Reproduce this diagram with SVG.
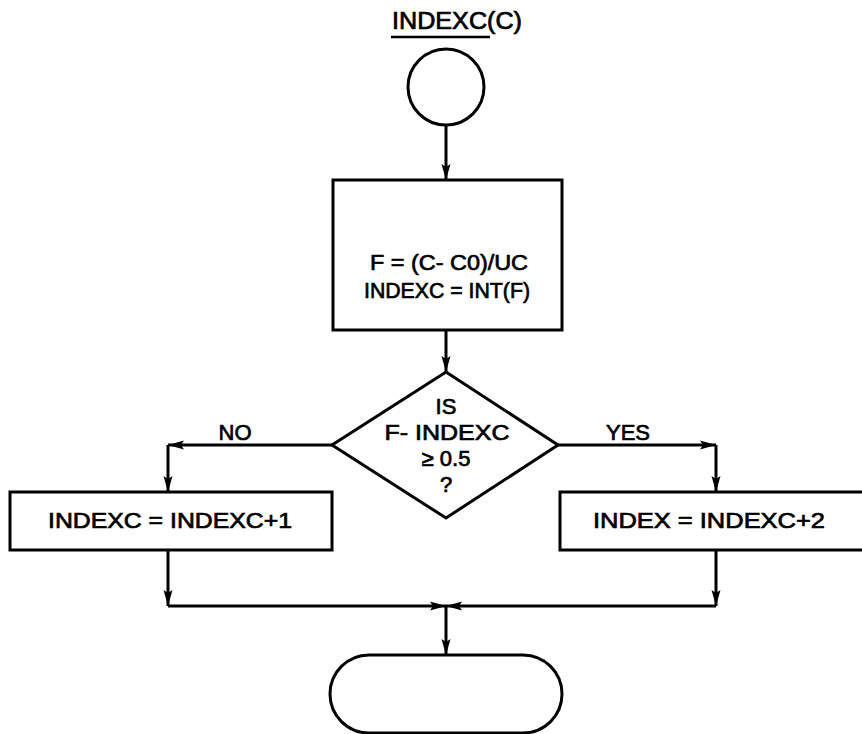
<svg xmlns="http://www.w3.org/2000/svg" width="862" height="734" viewBox="0 0 862 734">
  <style>
    .shape { fill: #fff; stroke: #000; stroke-width: 3; }
    .wire { fill: none; stroke: #000; stroke-width: 3; }
    .lbl { font-family: "Liberation Sans", Arial, sans-serif; font-size: 22px; fill: #000; stroke: #000; stroke-width: 0.7; text-anchor: middle; }
    .title { font-size: 23px; }
  </style>
  <defs>
    <marker id="arrow" viewBox="0 0 16 10" refX="16" refY="5" markerWidth="16" markerHeight="10" markerUnits="userSpaceOnUse" orient="auto">
      <path d="M0,0.5 L16,5 L0,9.5 L3,5 Z" fill="#000"/>
    </marker>
  </defs>
  <rect width="862" height="734" fill="#fff"/>

  <!-- entry point label -->
  <g id="title">
    <text class="lbl title" x="457" y="29" textLength="130" lengthAdjust="spacingAndGlyphs">INDEXC(C)</text>
    <line x1="391" y1="37" x2="490" y2="37" stroke="#000" stroke-width="2.5"/>
  </g>

  <!-- start connector circle -->
  <g id="start">
    <circle class="shape" cx="446" cy="87" r="38"/>
  </g>

  <!-- compute F and its integer part -->
  <g id="compute">
    <rect class="shape" x="333" y="180" width="229" height="150"/>
    <text class="lbl" x="449" y="270" textLength="158" lengthAdjust="spacingAndGlyphs">F = (C- C0)/UC</text>
    <text class="lbl" x="447" y="298" textLength="166" lengthAdjust="spacingAndGlyphs">INDEXC = INT(F)</text>
  </g>

  <!-- rounding decision -->
  <g id="decision">
    <polygon class="shape" points="446,372 558,445 446,518 332,445"/>
    <text class="lbl" x="446" y="414">IS</text>
    <text class="lbl" x="447" y="440" textLength="125" lengthAdjust="spacingAndGlyphs">F- INDEXC</text>
    <text class="lbl" x="446" y="466">≥ 0.5</text>
    <text class="lbl" x="446" y="492">?</text>
  </g>

  <!-- NO branch -->
  <g id="inc1">
    <rect class="shape" x="10" y="492" width="322" height="58"/>
    <text class="lbl" x="170" y="528" textLength="244" lengthAdjust="spacingAndGlyphs">INDEXC = INDEXC+1</text>
  </g>

  <!-- YES branch -->
  <g id="inc2">
    <rect class="shape" x="560" y="492" width="310" height="58"/>
    <text class="lbl" x="709" y="528" textLength="232" lengthAdjust="spacingAndGlyphs">INDEX = INDEXC+2</text>
  </g>

  <!-- exit terminal -->
  <g id="end">
    <rect class="shape" x="330" y="655" width="232" height="78" rx="39" ry="39"/>
  </g>

  <!-- flow lines -->
  <g id="connectors">
    <path class="wire" d="M446,125 V180" marker-end="url(#arrow)"/>
    <path class="wire" d="M446,330 V372" marker-end="url(#arrow)"/>
    <path class="wire" d="M332,445 H168" marker-end="url(#arrow)"/>
    <path class="wire" d="M168,445 V492" marker-end="url(#arrow)"/>
    <path class="wire" d="M558,445 H716" marker-end="url(#arrow)"/>
    <path class="wire" d="M716,445 V492" marker-end="url(#arrow)"/>
    <path class="wire" d="M168,550 V606" marker-end="url(#arrow)"/>
    <path class="wire" d="M716,550 V606" marker-end="url(#arrow)"/>
    <path class="wire" d="M168,606 H446" marker-end="url(#arrow)"/>
    <path class="wire" d="M716,606 H446" marker-end="url(#arrow)"/>
    <path class="wire" d="M446,606 V655" marker-end="url(#arrow)"/>
    <text class="lbl" x="235" y="440">NO</text>
    <text class="lbl" x="628" y="440">YES</text>
  </g>
</svg>
